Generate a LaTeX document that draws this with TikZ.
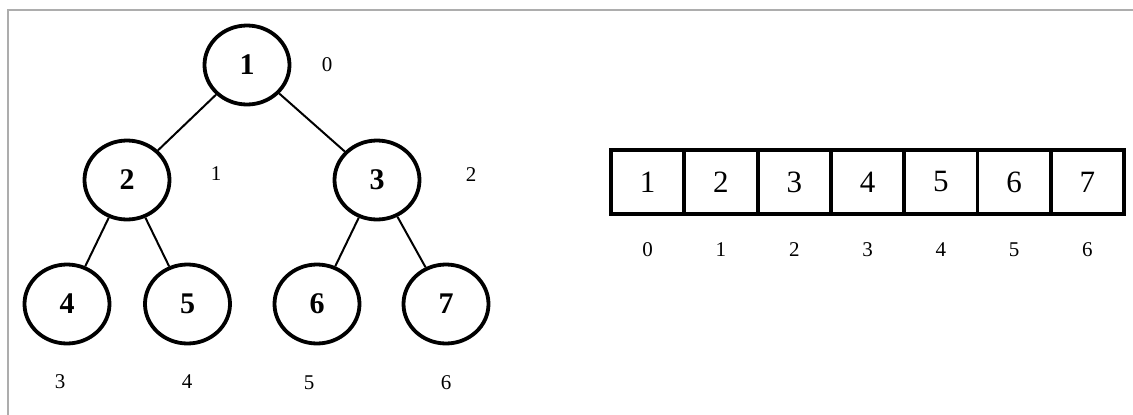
\documentclass[tikz,border=0pt]{standalone}
\usepackage{fontspec}
\setmainfont{Liberation Serif}
\usetikzlibrary{shapes.geometric}
\begin{document}
\begin{tikzpicture}[x=1pt,y=-1pt,
  heapnode/.style={ellipse, draw, line width=3.8pt, minimum width=85pt, minimum height=79pt, inner sep=0pt, font=\fontsize{30}{31}\selectfont\bfseries},
  edge/.style={line width=2pt},
  idx/.style={inner sep=0pt, font=\fontsize{21}{23}\selectfont},
  cell/.style={rectangle, draw, line width=3.8pt, minimum width=73.3pt, minimum height=64pt, inner sep=0pt, font=\fontsize{31}{33}\selectfont},
  frame/.style={draw=black!32, line width=1.5pt}]
\useasboundingbox (0,0) rectangle (1133,415);
\coordinate (fa) at (8,415);
\coordinate (fb) at (8,10);
\coordinate (fc) at (1133,10);
\draw[frame] (fa) -- (fb) -- (fc);
% heap tree
\node[heapnode] (n1) at (247,65) {1};
\node[heapnode] (n2) at (127,180) {2};
\node[heapnode] (n3) at (377,180) {3};
\node[heapnode] (n4) at (67,304) {4};
\node[heapnode] (n5) at (187.5,304) {5};
\node[heapnode] (n6) at (317,304) {6};
\node[heapnode] (n7) at (446,304) {7};
\draw[edge] (n1) -- (n2);
\draw[edge] (n1) -- (n3);
\draw[edge] (n2) -- (n4);
\draw[edge] (n2) -- (n5);
\draw[edge] (n3) -- (n6);
\draw[edge] (n3) -- (n7);
% tree indices
\node[idx] (t0) at (327,65) {0};
\node[idx] (t1) at (216,174) {1};
\node[idx] (t2) at (471,175) {2};
\node[idx] (t3) at (60,382) {3};
\node[idx] (t4) at (187,382) {4};
\node[idx] (t5) at (309,383) {5};
\node[idx] (t6) at (446,383) {6};
% array
\foreach \v [count=\k from 0] in {1,...,7} {
  \node[cell] (c\k) at ({611+73.3*(\k+0.5)},182) {\v};
  \node[idx] (a\k) at ({611+73.3*(\k+0.5)},250) {\k};
}
\end{tikzpicture}
\end{document}
